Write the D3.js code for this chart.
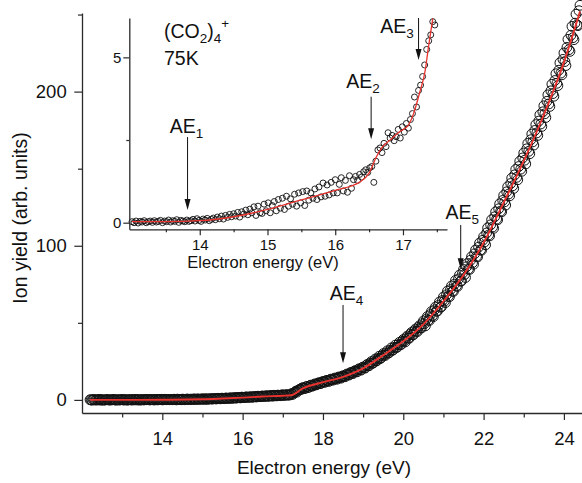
<!DOCTYPE html>
<html><head><meta charset="utf-8">
<script src="https://cdn.jsdelivr.net/npm/d3@7"></script>
<style>
html,body{margin:0;padding:0;background:#fff;}
svg{display:block;font-family:"Liberation Sans",Arial,Helvetica,sans-serif;}
</style></head><body>
<svg id="chart" width="582" height="483"></svg>
<script>
// ---------------- DATA ----------------
// Main spectrum, scan 1: ion yield (arb. units) on an electron-energy grid
const mainEnergyStart = 12.2, mainEnergyStep = 0.05;
const mainYield = [
0.1,-0.2,0.2,0.0,-0.1,0.3,0.0,-0.2,0.1,0.2,
-0.1,0.0,0.2,-0.2,0.1,0.0,0.3,-0.1,0.1,0.0,
0.2,-0.1,0.0,0.3,0.1,-0.2,0.2,0.0,0.1,0.3,
0.0,0.2,-0.1,0.3,0.1,0.2,0.0,0.4,0.1,0.2,
0.3,0.1,0.4,0.0,0.3,0.2,0.5,0.1,0.4,0.3,
0.5,0.2,0.6,0.3,0.5,0.4,0.7,0.3,0.6,0.5,
0.8,0.5,0.9,0.6,1.0,0.7,1.1,0.8,1.2,0.9,
1.3,1.0,1.5,1.2,1.6,1.3,1.7,1.5,1.9,1.6,
2.0,1.7,2.2,1.9,2.3,2.1,2.5,2.2,2.6,2.3,
2.8,2.4,2.9,2.6,3.0,2.7,3.2,2.9,3.3,3.1,
3.3,3.6,4.9,5.0,6.4,6.6,
7.9,7.3,8.7,8.2,9.6,9.1,10.4,10.0,11.2,10.7,
12.0,11.4,12.7,12.0,13.5,12.8,14.2,13.4,14.9,14.1,
15.7,15.0,16.8,16.1,17.9,17.1,19.0,18.2,20.2,19.3,
21.3,20.6,23.0,22.2,24.8,23.9,26.5,25.6,28.3,27.3,
30.0,28.8,31.8,30.7,33.7,32.5,35.5,34.2,37.3,36.0,
39.2,37.6,41.4,40.0,43.7,42.2,45.9,44.3,48.1,46.6,
51.2,48.0,54.1,51.5,57.3,54.0,60.2,57.6,63.5,60.4,
66.8,63.1,70.6,66.9,73.9,70.4,77.5,73.6,81.0,77.2,
84.6,79.4,88.5,84.6,92.9,88.0,97.3,92.7,101.8,97.1,
105.9,100.6,111.6,106.4,116.9,111.3,122.0,116.8,127.2,122.0,
132.6,126.4,138.3,132.4,143.9,137.2,149.5,142.8,154.8,148.3,
160.2,153.1,166.4,159.7,172.5,165.3,178.6,171.6,184.9,177.4,
190.8,183.2,197.9,190.4,204.8,197.0,211.6,203.9,218.7,210.9,
225.1,216.9,233.9,226.1,242.3,233.7,250.2,242.8,256.0
];
// Main spectrum, scan 2 (grid shifted by half a step)
const scan2EnergyStart = 12.225, scan2EnergyStep = 0.05;
const scan2Yield = [
0.0,0.2,-0.1,0.1,0.3,-0.2,0.1,0.0,0.2,-0.1,
0.1,0.3,0.0,0.1,-0.1,0.2,0.0,0.2,-0.2,0.1,
0.0,0.3,0.1,-0.1,0.2,0.1,0.0,0.3,0.2,0.0,
0.2,0.1,0.3,0.0,0.2,0.4,0.1,0.2,0.3,0.1,
0.2,0.4,0.2,0.5,0.3,0.1,0.4,0.3,0.6,0.2,
0.4,0.6,0.3,0.7,0.4,0.6,0.5,0.8,0.4,0.7,
0.6,0.9,0.7,1.0,0.8,1.1,0.9,1.2,1.0,1.3,
1.1,1.4,1.2,1.6,1.4,1.8,1.5,1.9,1.7,2.0,
1.8,2.1,2.0,2.4,2.1,2.5,2.3,2.7,2.4,2.8,
2.6,3.0,2.7,3.1,2.9,3.3,3.0,3.4,3.1,3.4,
4.2,4.5,5.7,6.1,7.0,7.7,
7.6,8.5,8.0,9.2,8.9,9.9,9.7,10.8,10.5,11.5,
11.6,12.4,12.3,13.1,13.0,13.7,13.7,14.5,14.4,15.2,
15.2,16.3,16.2,17.4,17.3,18.5,18.4,19.7,19.6,21.0,
20.8,22.3,22.1,23.8,23.7,25.4,25.2,27.0,26.8,28.8,
29.1,30.5,30.3,32.3,32.1,34.1,34.0,35.9,35.8,38.0,
38.2,40.4,40.1,42.6,42.3,44.8,44.5,47.0,46.7,49.5,
49.4,52.4,51.8,55.4,54.6,58.4,57.5,61.3,60.1,64.5,
64.1,68.2,67.3,71.6,70.5,75.1,73.9,78.5,77.0,82.2,
81.3,86.4,84.9,90.6,89.0,94.8,93.1,99.1,97.3,103.5,
102.5,108.3,107.0,113.6,112.2,118.8,117.3,124.0,122.5,129.4,
128.5,135.0,133.6,140.4,138.9,146.0,144.4,151.4,149.7,157.0,
155.5,162.9,161.3,168.8,167.4,174.8,173.2,180.9,179.0,186.9,
185.6,193.7,192.0,200.5,198.7,207.2,205.4,213.9,212.0,220.9,
219.5,228.7,227.2,236.6,235.0,244.4,243.2,252.5
];
// Main fit (red line)
const mainFitEnergy = [12.2,13,14,15,15.5,16,16.5,17,17.2,17.5,18,18.5,19,19.5,20,20.5,21,21.5,22,22.5,23,23.5,24,24.4];
const mainFitYield  = [0,0,0.1,0.4,0.9,1.5,2.2,2.7,3.0,7.5,11.5,15,20.5,29,38,49,64,81,102,128,155,185,219,252];

// Inset spectrum
const insetEnergyStart = 13.0, insetEnergyStep = 0.03;
const insetYield = [
0.03,0.0,0.05,-0.01,0.04,0.02,0.06,0.0,0.03,0.05,
0.01,0.06,0.02,0.04,0.07,0.0,0.05,0.03,0.08,0.02,
0.06,0.04,0.09,0.01,0.07,0.05,0.03,0.08,0.04,0.06,
0.1,0.05,0.12,0.07,0.04,0.11,0.08,0.13,0.06,0.1,
0.14,0.09,0.17,0.12,0.2,0.11,0.22,0.16,0.25,0.18,
0.27,0.2,0.31,0.17,0.33,0.26,0.38,0.24,0.41,0.3,
0.48,0.22,0.5,0.3,0.28,0.56,0.36,0.6,0.3,0.52,
0.64,0.36,0.7,0.44,0.74,0.4,0.8,0.5,0.72,0.56,
0.86,0.5,0.9,0.6,0.94,0.52,0.96,0.68,0.9,0.74,
1.02,0.7,1.08,0.78,1.2,0.8,1.14,0.84,1.22,0.9,
1.3,0.9,1.16,1.36,0.96,1.28,0.92,1.42,1.04,1.3,
1.4,1.28,1.46,1.38,1.54,1.6,1.52,1.66,1.7,1.22,
1.86,2.2,2.26,2.12,2.4,2.3,2.72,2.56,2.64,2.48,
2.6,2.82,2.56,2.9,2.74,3.0,2.86,3.12,3.3,3.8,
3.5,4.0,4.16,4.42,4.77,5.24,5.5,5.68,6.08,5.98
];
const insetFitEnergy = [13.0,13.5,14.0,14.5,15.0,15.5,16.0,16.37,16.5,16.61,16.7,16.81,16.95,17.08,17.15,17.25,17.33,17.37,17.44];
const insetFitYield  = [0.03,0.03,0.06,0.18,0.40,0.69,0.98,1.24,1.50,2.0,2.3,2.5,2.75,2.95,3.26,3.96,4.62,5.22,6.18];

// Ticks
const mainXTicks = [14,16,18,20,22,24];
const mainXMinor = [13,15,17,19,21,23];
const mainYTicks = [0,100,200];
const mainYMinor = [50,150,250];
const insetXTicks = [14,15,16,17];
const insetXMinor = [13.5,14.5,15.5,16.5,17.5];
const insetYTicks = [0,5];
const insetYMinor = [2.5];

// Appearance-energy annotations
const aeSub    = ["1","2","3","4","5"];
const aeEnergy = [13.82,16.53,17.23,18.50,21.43];
const aePanel  = ["inset","inset","inset","main","main"];
const aeTip    = [0.38,2.52,4.92,23.7,84.7];
const aeTail   = [2.59,3.81,6.19,61.6,113.5];
// label layout (pixel offsets from arrow tail)
const aeLabelDx = [-17.7,-25,-38.3,-13.3,-15.3];
const aeLabelDy = [-3.7,-8.4,15.3,-5,-5.7];

// ---------------- DRAW ----------------
const svg = d3.select("#chart");
const ink = "#111";
const axisCol = "#2a2a2a";
const red = "#e8322e";

const x = d3.scaleLinear().domain([12, 24.5]).range([82, 584]);
const y = d3.scaleLinear().domain([-8.5, 251]).range([413, 13]);
const xi = d3.scaleLinear().domain([12.96, 17.65]).range([129.3, 447]);
const yi = d3.scaleLinear().domain([-0.2, 6.19]).range([229.3, 18]);

function styleAxis(g, fs){
  g.selectAll("path.domain").attr("stroke", axisCol).attr("stroke-width", 1.3);
  g.selectAll(".tick line").attr("stroke", axisCol).attr("stroke-width", 1.2);
  g.selectAll(".tick text").attr("fill", ink).style("font-size", fs + "px")
    .style("font-family", '"Liberation Sans",Arial,sans-serif');
}

// main data (two scans)
const mainPts = mainYield.map((v,i)=>({e: mainEnergyStart + i*mainEnergyStep, v}))
  .concat(scan2Yield.map((v,i)=>({e: scan2EnergyStart + i*scan2EnergyStep, v})))
  .sort((a,b)=>a.e-b.e);
svg.append("g").selectAll("circle").data(mainPts).join("circle")
  .attr("cx", d=>x(d.e)).attr("cy", d=>y(d.v)).attr("r", 4.9)
  .attr("fill", "none").attr("stroke", ink).attr("stroke-width", 1.0);
const mainFit = mainFitEnergy.map((e,i)=>({e, v: mainFitYield[i]}));
svg.append("path").datum(mainFit)
  .attr("d", d3.line().x(d=>x(d.e)).y(d=>y(d.v)).curve(d3.curveMonotoneX))
  .attr("fill","none").attr("stroke", red).attr("stroke-width", 1.9);

// main axes
const gx = svg.append("g").attr("transform","translate(0,413)");
gx.append("g").call(d3.axisBottom(x).tickValues(mainXMinor).tickSize(4.5).tickSizeOuter(0).tickFormat(""))
  .call(g=>g.select(".domain").remove());
gx.append("g").call(d3.axisBottom(x).tickValues(mainXTicks).tickSize(7).tickSizeOuter(0).tickPadding(12).tickFormat(d3.format("d")))
  .call(g=>styleAxis(g, 18.5));
styleAxis(gx, 18.5);
const gy = svg.append("g").attr("transform","translate(82,0)");
gy.append("g").call(d3.axisLeft(y).tickValues(mainYMinor).tickSize(4).tickSizeOuter(0).tickFormat(""))
  .call(g=>g.select(".domain").remove());
gy.append("g").call(d3.axisLeft(y).tickValues(mainYTicks).tickSize(7.7).tickSizeOuter(0).tickPadding(7.6).tickFormat(d3.format("d")))
  .call(g=>styleAxis(g, 18.5));
styleAxis(gy, 18.5);

svg.append("text").attr("x", 324).attr("y", 473.5).attr("text-anchor","middle")
  .attr("fill", ink).style("font-size","19px").text("Electron energy (eV)");
svg.append("text").attr("transform","translate(27,218) rotate(-90)").attr("text-anchor","middle")
  .attr("fill", ink).style("font-size","19.5px").text("Ion yield (arb. units)");

// inset data
const insetPts = insetYield.map((v,i)=>({e: insetEnergyStart + i*insetEnergyStep, v}));
svg.append("g").selectAll("circle").data(insetPts).join("circle")
  .attr("cx", d=>xi(d.e)).attr("cy", d=>yi(d.v)).attr("r", 3.0)
  .attr("fill", "none").attr("stroke", ink).attr("stroke-width", 0.9);
const insetFit = insetFitEnergy.map((e,i)=>({e, v: insetFitYield[i]}));
svg.append("path").datum(insetFit)
  .attr("d", d3.line().x(d=>xi(d.e)).y(d=>yi(d.v)).curve(d3.curveMonotoneX))
  .attr("fill","none").attr("stroke", red).attr("stroke-width", 1.3);

// inset axes
const gxi = svg.append("g").attr("transform","translate(0,229.3)");
gxi.append("g").call(d3.axisBottom(xi).tickValues(insetXMinor).tickSize(3).tickSizeOuter(0).tickFormat(""))
  .call(g=>g.select(".domain").remove());
gxi.append("g").call(d3.axisBottom(xi).tickValues(insetXTicks).tickSize(6).tickSizeOuter(0).tickPadding(4).tickFormat(d3.format("d")))
  .call(g=>styleAxis(g, 15));
styleAxis(gxi, 15);
const gyi = svg.append("g").attr("transform","translate(129.3,0)");
gyi.append("g").call(d3.axisLeft(yi).tickValues(insetYMinor).tickSize(3).tickSizeOuter(0).tickFormat(""))
  .call(g=>g.select(".domain").remove());
gyi.append("g").call(d3.axisLeft(yi).tickValues(insetYTicks).tickSize(6).tickSizeOuter(0).tickPadding(2).tickFormat(d3.format("d")))
  .call(g=>styleAxis(g, 15));
styleAxis(gyi, 15);

svg.append("text").attr("x", 263).attr("y", 268).attr("text-anchor","middle")
  .attr("fill", ink).style("font-size","16.5px").text("Electron energy (eV)");

// inset species label
const sp = svg.append("text").attr("x", 164).attr("y", 38.3).attr("fill", ink).style("font-size","19.5px");
sp.append("tspan").text("(CO");
sp.append("tspan").attr("dy", 5).style("font-size","13.5px").text("2");
sp.append("tspan").attr("dy", -5).text(")");
sp.append("tspan").attr("dy", 5).style("font-size","13.5px").text("4");
sp.append("tspan").attr("dy", -15.5).style("font-size","13.5px").text("+");
svg.append("text").attr("x", 164).attr("y", 65).attr("fill", ink).style("font-size","19.5px").text("75K");

// annotations
aeEnergy.forEach((e,i)=>{
  const sx = aePanel[i]==="inset" ? xi : x;
  const sy = aePanel[i]==="inset" ? yi : y;
  const ax = sx(e), yTip = sy(aeTip[i]), yTail = sy(aeTail[i]);
  const headL = 11, headW = 3;
  svg.append("line").attr("x1", ax).attr("x2", ax).attr("y1", yTail).attr("y2", yTip - headL + 1)
    .attr("stroke", ink).attr("stroke-width", 1);
  svg.append("path").attr("d", `M${ax},${yTip} L${ax-headW},${yTip-headL} L${ax+headW},${yTip-headL} Z`)
    .attr("fill", ink);
  const t = svg.append("text").attr("x", ax + aeLabelDx[i]).attr("y", yTail + aeLabelDy[i])
    .attr("fill", ink).style("font-size","19.5px");
  t.append("tspan").text("AE");
  t.append("tspan").attr("dy", 5).style("font-size","13.5px").text(aeSub[i]);
});
</script>
</body></html>
